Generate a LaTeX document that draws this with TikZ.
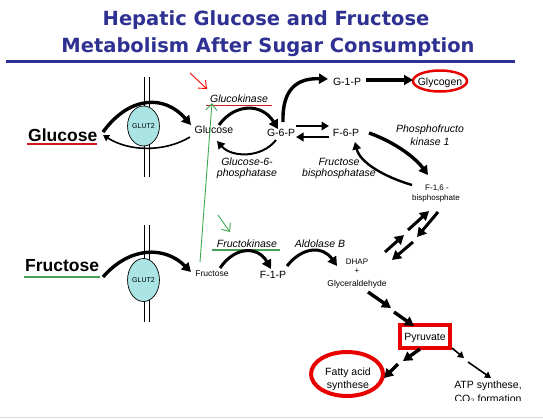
\documentclass[tikz,border=0pt]{standalone}
\usepackage{fontspec}
\setmainfont{Liberation Sans}
\newfontfamily\titlefont{DejaVu Sans}
\usetikzlibrary{arrows.meta,shapes.geometric}
\definecolor{titleblue}{RGB}{46,49,146}
\definecolor{boxred}{RGB}{232,0,0}
\definecolor{ulred}{RGB}{205,25,30}
\definecolor{ulgreen}{RGB}{70,160,85}
\definecolor{arrgreen}{RGB}{60,170,80}
\definecolor{glutfill}{RGB}{170,228,228}
\tikzset{
  titlestyle/.style={font=\titlefont\bfseries\fontsize{19.5}{22}\selectfont, text=titleblue, inner sep=0pt},
  biglab/.style={font=\bfseries\fontsize{17.5}{20}\selectfont, inner sep=0pt},
  lab/.style={font=\fontsize{10.5}{12}\selectfont, inner sep=0pt},
  enz/.style={font=\itshape\fontsize{10.5}{12}\selectfont, inner sep=0pt},
  smalllab/.style={font=\fontsize{8}{9}\selectfont, inner sep=0pt},
  glut/.style={ellipse, draw, line width=0.7pt, fill=glutfill, minimum width=26pt, minimum height=40pt, inner sep=0pt, font=\fontsize{7}{8}\selectfont},
  membrane/.style={line width=1.3pt},
  bigarrow/.style={line width=3.4pt, -{Triangle[length=9pt,width=10pt]}},
  midarrow/.style={line width=2.4pt, -{Triangle[length=7.5pt,width=8.5pt]}},
  slimarrow/.style={line width=1.6pt, -{Triangle[length=6pt,width=7pt]}},
  openarrow/.style={line width=0.9pt, -{Straight Barb[length=6.5pt,width=11pt]}},
}
\begin{document}
\begin{tikzpicture}[x=1pt,y=-1pt]
\useasboundingbox (0,0) rectangle (543,418);
\fill[white] (0,0) rectangle (543,418);
\draw[black!15, line width=0.8pt] (0,417) -- (543,417);

% title
\node[titlestyle, anchor=base] (t1) at (266,25) {Hepatic Glucose and Fructose};
\node[titlestyle, anchor=base] (t2) at (268,52) {Metabolism After Sugar Consumption};
\draw[titleblue, line width=2.5pt] (6,61.5) -- (515,61.5);

% membranes
\draw[membrane] (144.5,77) -- (144.5,177);
\draw[membrane] (149.5,77) -- (149.5,177);
\draw[membrane] (144.5,225) -- (144.5,322);
\draw[membrane] (149.5,225) -- (149.5,322);
\node[glut] (glutA) at (143.5,126) {GLUT2};
\node[glut, minimum height=43pt] (glutB) at (143.5,280) {GLUT2};

% big labels
\node[biglab, anchor=base west] (glc) at (28,141) {Glucose};
\draw[ulred, line width=2.5pt] (27,144) -- (97,144);
\node[biglab, anchor=base west] (fru) at (25,271) {Fructose};
\draw[ulgreen, line width=2.5pt] (24,277) -- (100,277);

% metabolites
\node[lab, anchor=base] (glcin) at (214,133) {Glucose};
\node[lab, anchor=base] (g6p) at (281,136) {G-6-P};
\node[lab, anchor=base] (g1p) at (347,85) {G-1-P};
\node[lab, anchor=base] (glycogen) at (440,85) {Glycogen};
\draw[boxred, line width=2.5pt] (440,81) ellipse [x radius=27, y radius=10.5];
\node[lab, anchor=base] (f6p) at (346,136) {F-6-P};
\node[smalllab, anchor=base] (f16a) at (437,190) {F-1,6 -};
\node[smalllab, anchor=base] (f16b) at (436,200) {bisphosphate};
\node[smalllab, font=\fontsize{8.5}{9}\selectfont, anchor=base] (fruin) at (212,276) {Fructose};
\node[lab, anchor=base] (f1p) at (273,278) {F-1-P};
\node[smalllab, anchor=base] (dhap) at (357,264) {DHAP};
\node[smalllab, anchor=base] (plus) at (357,273) {+};
\node[smalllab, font=\fontsize{8.5}{9}\selectfont, anchor=base] (gald) at (357,286) {Glyceraldehyde};
\node[lab, draw=boxred, line width=4pt, minimum width=50pt, minimum height=23pt, anchor=center, fill=white] (pyr) at (425,336.5) {};
\node[lab, anchor=base] (pyrtxt) at (425,340) {Pyruvate};
\draw[boxred, line width=4pt] (347,374) ellipse [x radius=36, y radius=22];
\node[lab, anchor=base] (fas1) at (348,375) {Fatty acid};
\node[lab, anchor=base] (fas2) at (348,388) {synthese};
\node[lab, anchor=base] (atp1) at (488,388) {ATP synthese,};
\begin{scope}
\clip (440,390) rectangle (540,400.5);
\node[lab, anchor=base] (atp2) at (488,402) {CO$_2$ formation};
\end{scope}

% enzymes
\node[enz, anchor=base] (gk) at (239,102) {Glucokinase};
\draw[ulred, line width=1.4pt] (206,105.5) -- (272,105.5);
\node[enz, anchor=base] (g6pase1) at (247,165) {Glucose-6-};
\node[enz, anchor=base] (g6pase2) at (247,176) {phosphatase};
\node[enz, anchor=base] (fbp1) at (339,165) {Fructose};
\node[enz, anchor=base] (fbp2) at (339,176) {bisphosphatase};
\node[enz, anchor=base] (pfk1) at (430,132) {Phosphofructo};
\node[enz, anchor=base] (pfk2) at (430,145) {kinase 1};
\node[enz, anchor=base] (fk) at (247,247) {Fructokinase};
\draw[ulgreen, line width=1.4pt] (212,250) -- (280,250);
\node[enz, anchor=base] (aldo) at (320,247) {Aldolase B};

% transport arrows
\coordinate (a1) at (103,132); \coordinate (a2) at (191,125);
\draw[bigarrow] (a1) .. controls (130,95) and (165,95) .. (a2);
\coordinate (b1) at (190,137); \coordinate (b2) at (103,135);
\draw[slimarrow] (b1) .. controls (165,152) and (130,152) .. (b2);
\coordinate (c1) at (103,277); \coordinate (c2) at (191,272);
\draw[bigarrow] (c1) .. controls (130,246) and (165,246) .. (c2);

% glucose metabolism
\coordinate (d1) at (219,125); \coordinate (d2) at (278,129);
\draw[bigarrow, line width=3pt] (d1) .. controls (235,103) and (262,103) .. (d2);
\coordinate (e1) at (276,140); \coordinate (e2) at (217,141);
\draw[midarrow, line width=2pt] (e1) .. controls (262,158) and (232,158) .. (e2);
\coordinate (f1) at (283,122); \coordinate (f2) at (328,79);
\draw[bigarrow] (f1) .. controls (282,88) and (298,78) .. (f2);
\coordinate (h1) at (366,80); \coordinate (h2) at (413,80);
\draw[bigarrow] (h1) -- (h2);
\coordinate (i1) at (296,126); \coordinate (i2) at (329,126);
\draw[midarrow] (i1) -- (i2);
\coordinate (j1) at (329,137); \coordinate (j2) at (296,137);
\draw[midarrow] (j1) -- (j2);
\coordinate (k1) at (369,133); \coordinate (k2) at (428,175);
\draw[bigarrow] (k1) .. controls (392,141) and (414,156) .. (k2);
\coordinate (l1) at (412,185); \coordinate (l2) at (355,142);
\draw[midarrow] (l1) .. controls (385,177) and (360,163) .. (l2);

% fructose metabolism
\coordinate (m1) at (220,268); \coordinate (m2) at (271,269);
\draw[bigarrow, line width=3pt] (m1) .. controls (235,246) and (258,246) .. (m2);
\coordinate (n1) at (287,266); \coordinate (n2) at (337,266);
\draw[bigarrow, line width=3pt] (n1) .. controls (303,246) and (323,246) .. (n2);

% triose <-> F-1,6-bisphosphate
\coordinate (o1) at (385,252); \coordinate (o2) at (404,235);
\coordinate (o3) at (408,230); \coordinate (o4) at (429,211);
\draw[bigarrow, line width=3pt] (o1) -- (o2);
\draw[bigarrow, line width=3pt] (o3) -- (o4);
\coordinate (p1) at (438,212); \coordinate (p2) at (417,237);
\coordinate (p3) at (413,242); \coordinate (p4) at (392,260);
\draw[bigarrow, line width=3pt] (p1) -- (p2);
\draw[bigarrow, line width=3pt] (p3) -- (p4);

% to pyruvate
\coordinate (q1) at (368,292); \coordinate (q2) at (391,308);
\coordinate (q3) at (394,312); \coordinate (q4) at (414,326);
\draw[bigarrow] (q1) -- (q2);
\draw[bigarrow] (q3) -- (q4);
\coordinate (r1) at (420,349); \coordinate (r2) at (403,361);
\coordinate (r3) at (398,364); \coordinate (r4) at (384,378);
\draw[bigarrow] (r1) -- (r2);
\draw[bigarrow] (r3) -- (r4);
\coordinate (s1) at (452,348); \coordinate (s2) at (464,358);
\coordinate (s3) at (468,362); \coordinate (s4) at (491,378);
\draw[slimarrow] (s1) -- (s2);
\draw[slimarrow] (s3) -- (s4);

% highlight arrows
\coordinate (u1) at (200,262); \coordinate (u2) at (212,103);
\draw[openarrow, arrgreen] (u1) -- (u2);
\coordinate (v1) at (218,215); \coordinate (v2) at (230,232);
\draw[openarrow, arrgreen] (v1) -- (v2);
\coordinate (w1) at (190,73); \coordinate (w2) at (207,89);
\draw[openarrow, red] (w1) -- (w2);
\end{tikzpicture}
\end{document}
